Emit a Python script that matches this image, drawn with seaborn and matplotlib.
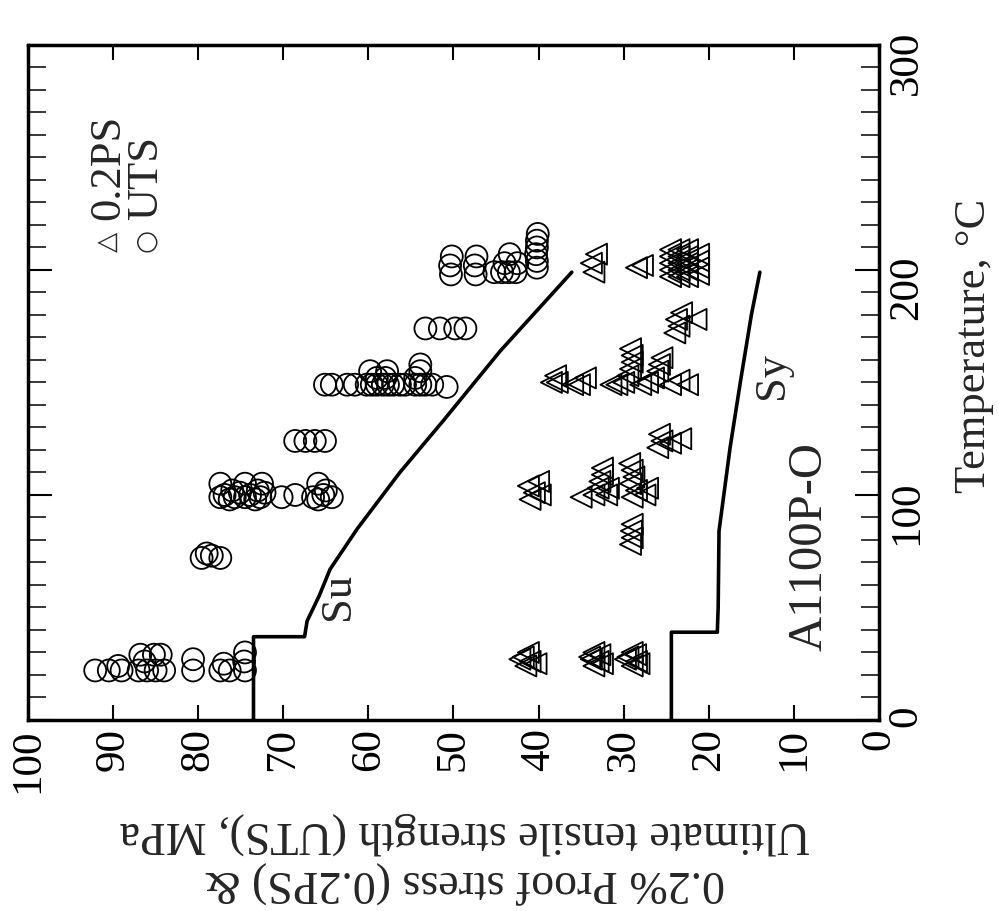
import numpy as np
import pandas as pd
import matplotlib
matplotlib.use('Agg')
import matplotlib.pyplot as plt
import seaborn as sns
from matplotlib.ticker import MultipleLocator

# ---------------- data (temperature in degC, stress in MPa) ----------------
uts_temp = [22, 22, 24, 22, 22, 26, 22, 22, 22, 29, 29, 29, 27, 22, 22, 25, 22, 22, 26, 30,
            72, 74, 73, 72,
            99, 100, 98, 99, 101, 99, 100, 98, 99, 101, 99, 100, 99, 98, 100, 99,
            105, 105, 105, 105, 102, 102, 102,
            124, 124, 124, 124,
            149, 149, 149, 149, 149, 149, 149, 149, 149, 149, 149, 149, 149, 149, 149, 149, 148,
            155, 155, 155, 158, 152, 152, 152,
            174, 174, 174, 174,
            198, 202, 206, 198, 202, 206, 199, 199, 199, 199, 203, 207, 203,
            201, 204, 207, 210, 213, 216]
uts_stress = [92.1, 90.5, 89.4, 89.0, 87.0, 86.3, 86.0, 85.0, 84.0, 86.8, 85.2, 84.4, 80.6, 80.6,
              77.4, 77.0, 76.3, 74.5, 74.6, 74.5,
              79.6, 79.0, 78.4, 77.4,
              77.4, 76.9, 76.3, 75.7, 75.1, 74.5, 73.9, 73.3, 72.7, 72.2, 70.2, 68.6, 66.5, 65.9,
              65.3, 64.3,
              77.4, 74.5, 72.5, 65.9, 76.0, 73.0, 65.0,
              68.6, 67.4, 66.3, 65.1,
              65.1, 64.3, 62.5, 61.6, 60.2, 59.6, 59.0, 58.3, 57.7, 57.1, 56.3, 55.7, 54.5, 53.9,
              53.3, 52.5, 50.8,
              59.8, 57.8, 53.9, 53.9, 59.0, 58.0, 54.5,
              53.3, 51.6, 49.8, 48.6,
              50.3, 50.4, 50.2, 47.4, 47.5, 47.3, 45.2, 44.3, 43.5, 42.7, 44.0, 43.4, 42.5,
              40.2, 40.2, 40.3, 40.2, 40.2, 40.1]

ps_temp = [24, 26, 28, 30, 25, 27,
           24, 26, 28, 30, 25, 27, 29,
           24, 26, 28, 30, 25, 27, 29,
           78, 81, 84, 87,
           98, 101, 104, 106, 100,
           99, 100, 103, 106, 109, 112, 100, 103,
           99, 102, 105, 108, 111, 114, 100, 103,
           121, 124, 127, 123, 125,
           150, 150, 153, 149, 149, 152,
           149, 149, 150, 153, 156, 159, 162, 165,
           149, 150, 152, 155, 158, 161,
           149, 151, 149,
           172, 175, 178, 181, 178,
           199, 203, 207, 201, 202,
           197, 200, 203, 206, 209, 197, 200, 203, 206, 209,
           197, 200, 203, 206, 209, 198, 201, 204, 207]
ps_stress = [41.5, 41.0, 41.8, 41.2, 40.3, 42.2,
             33.5, 33.0, 34.0, 33.5, 32.5, 33.8, 32.8,
             29.0, 28.5, 29.5, 29.0, 28.2, 29.8, 28.6,
             29.2, 29.0, 29.1, 29.0,
             41.0, 40.5, 41.2, 40.0, 39.8,
             35.0, 33.5, 33.0, 32.8, 32.5, 32.5, 32.0, 31.8,
             29.0, 28.5, 29.2, 28.8, 29.0, 29.3, 27.5, 27.2,
             26.0, 25.5, 25.8, 24.5, 23.3,
             38.5, 37.8, 38.0, 36.0, 35.2, 34.5,
             31.5, 30.8, 30.0, 29.5, 29.2, 29.0, 29.0, 29.2,
             28.0, 27.2, 26.5, 26.0, 25.8, 25.5,
             24.5, 23.5, 22.5,
             24.0, 23.5, 23.8, 23.2, 21.5,
             33.5, 33.8, 33.2, 28.5, 27.8,
             24.5, 24.5, 24.5, 24.5, 24.5, 23.5, 23.5, 23.5, 23.5, 23.5,
             22.5, 22.5, 22.5, 22.5, 22.5, 21.2, 21.2, 21.2, 21.2]

su_temp = [0, 37, 37, 44, 55, 67, 85, 110, 133, 164, 199]
su_stress = [73.5, 73.5, 67.5, 67.2, 65.8, 64.5, 61.3, 56.3, 51.2, 44.5, 36.1]

sy_temp = [0, 39, 39, 50, 84, 121, 150, 180, 199]
sy_stress = [24.4, 24.4, 19.0, 18.9, 18.8, 17.5, 16.3, 15.0, 14.0]

legend_labels = ['0.2PS', 'UTS']
legend_symbols = ['△', '○']
xlabel_text = "0.2% Proof stress (0.2PS) &\nUltimate tensile strength (UTS), MPa"
ylabel_text = "Temperature, °C"

# ---------------- style ----------------
sns.set_style('ticks')
plt.rcParams['font.family'] = ['Liberation Serif', 'DejaVu Sans']

fig = plt.figure(figsize=(9.99, 9.11), dpi=100)
ax = fig.add_axes([0.028, 0.2097, 0.8519, 0.741])

uts = pd.DataFrame({'stress': uts_stress, 'temp': uts_temp})
ps = pd.DataFrame({'stress': ps_stress, 'temp': ps_temp})

sns.scatterplot(data=uts, x='stress', y='temp', marker='o', s=250,
                facecolors='none', edgecolor='black', linewidth=1.3, ax=ax)
sns.scatterplot(data=ps, x='stress', y='temp', marker='<', s=230,
                facecolors='none', edgecolor='black', linewidth=1.3, ax=ax)
sns.lineplot(x=su_stress, y=su_temp, sort=False, estimator=None,
             color='black', lw=2.6, ax=ax)
sns.lineplot(x=sy_stress, y=sy_temp, sort=False, estimator=None,
             color='black', lw=2.6, ax=ax)

ax.set_xlim(100, 0)
ax.set_ylim(0, 300)

for sp in ax.spines.values():
    sp.set_linewidth(2.5)
    sp.set_color('black')

ax.xaxis.set_major_locator(MultipleLocator(10))
ax.tick_params(axis='x', which='major', direction='in', length=11, width=1.5,
               top=True, bottom=True, labelbottom=True, labelrotation=90,
               labelsize=31, pad=6, colors='black')

ax.yaxis.tick_right()
ax.yaxis.set_major_locator(MultipleLocator(100))
ax.yaxis.set_minor_locator(MultipleLocator(10))
ax.tick_params(axis='y', which='major', direction='in', length=17, width=1.5,
               left=True, right=True, labelleft=False, labelright=True,
               labelrotation=90, labelsize=31, pad=6, colors='black')
ax.tick_params(axis='y', which='minor', direction='in', length=13, width=1.3,
               left=True, right=True)

ax.set_xlabel(xlabel_text, rotation=180, fontsize=33)
ax.xaxis.set_label_coords(0.513, -0.136)
ax.yaxis.set_label_position('right')
ax.set_ylabel(ylabel_text, rotation=90, fontsize=32)
ax.yaxis.set_label_coords(1.088, 0.554)

ax.text(63.6, 55, 'Su', rotation=90, ha='center', va='center', fontsize=32)
ax.text(12.6, 153, 'Sy', rotation=90, ha='center', va='center', fontsize=32)
ax.text(8.2, 77, 'A1100P-O', rotation=90, ha='center', va='center', fontsize=35)

# legend drawn as rotated text entries
leg_x = [90.6, 86.1]
for lx, sym, lab in zip(leg_x, legend_symbols, legend_labels):
    ax.text(lx, 208, sym, rotation=90, rotation_mode='anchor',
            ha='left', va='center', fontsize=19, family=['DejaVu Sans'])
    ax.text(lx, 222, lab, rotation=90, rotation_mode='anchor',
            ha='left', va='center', fontsize=32)

fig.savefig('out.png', dpi=100)
